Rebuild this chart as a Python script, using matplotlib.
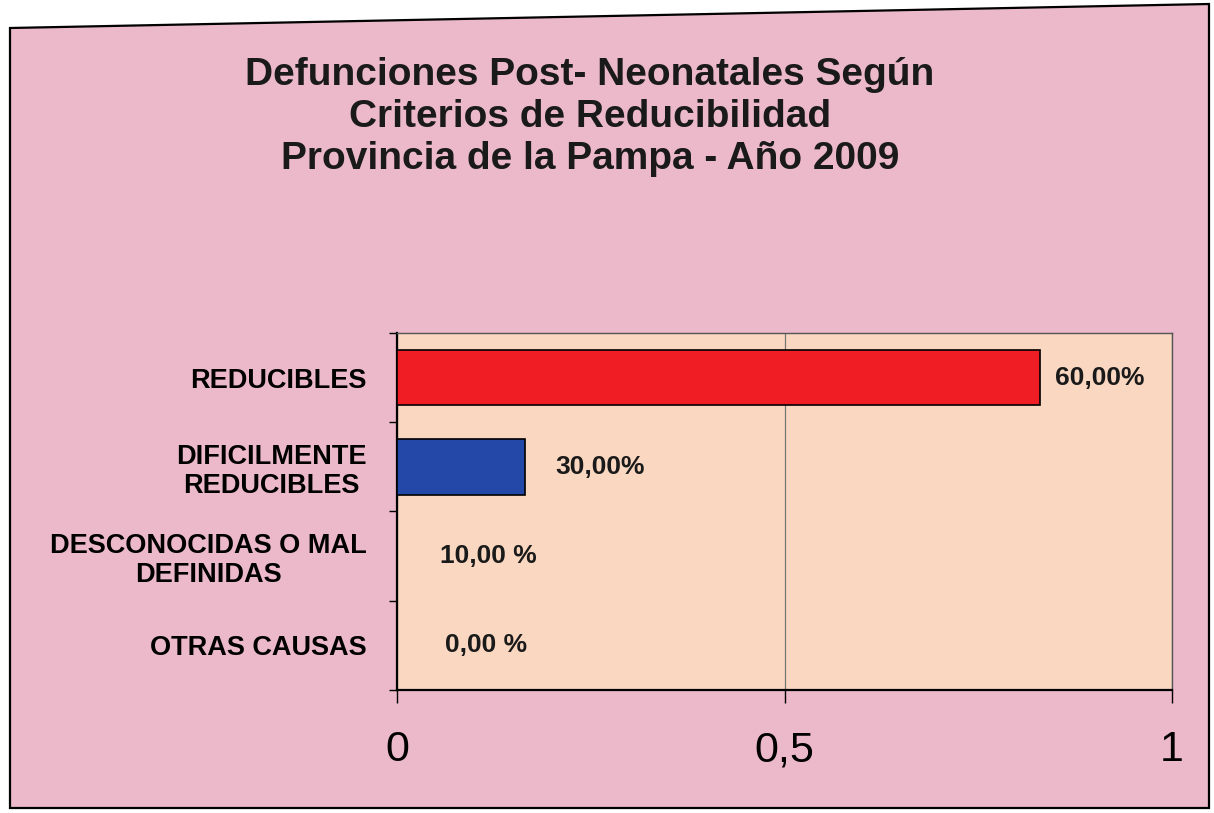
import numpy as np
import matplotlib
matplotlib.use('Agg')
import matplotlib.pyplot as plt
from matplotlib.patches import Polygon

# Data
categories = ['REDUCIBLES', 'DIFICILMENTE\nREDUCIBLES', 'DESCONOCIDAS O MAL\nDEFINIDAS', 'OTRAS CAUSAS']
values     = [0.83, 0.165, 0.0, 0.0]
val_labels = ['60,00%', '30,00%', '10,00 %', '0,00 %']
x_ticks    = [0, 0.5, 1]
x_ticklbls = ['0', '0,5', '1']

bar_colors = ['#F01E24', '#2448A8', '#F01E24', '#F01E24']
lbl_offset = [15, 30, 43, 48]   # pixels from bar end to label

plt.rcParams['font.family'] = ['Liberation Sans', 'DejaVu Sans']

fig = plt.figure(figsize=(12.14, 8.13), dpi=100, facecolor='white')
W, H = 1214, 813

# Pink scanned frame (slightly tilted)
corners = [(10, 28), (1209, 4), (1209, 808), (10, 808)]
frame = Polygon([(x / W, 1 - y / H) for x, y in corners], closed=True,
                transform=fig.transFigure, facecolor='#EBB9C9',
                edgecolor='black', linewidth=1.6, zorder=-5)
fig.patches.append(frame)

ax = fig.add_axes([397 / W, 1 - 690 / H, (1172 - 397) / W, (690 - 333) / H])
ax.set_zorder(2)
ax.set_facecolor('#F9D7C0')

y = np.arange(len(categories))
ax.barh(y, values, height=0.62, color=bar_colors, edgecolor='black', linewidth=1.2, zorder=3)

ax.set_xlim(0, 1)
ax.set_ylim(len(categories) - 0.5, -0.5)

# Value labels
for i, (v, lbl) in enumerate(zip(values, val_labels)):
    ax.annotate(lbl, xy=(v, i), xytext=(lbl_offset[i] * 0.72, 0), textcoords='offset points',
                ha='left', va='center', fontsize=19, fontweight='bold', color='#1a1a1a')

# Category labels
ax.set_yticks(y)
ax.set_yticklabels(categories, fontsize=19.5, fontweight='bold', multialignment='center',
                   linespacing=1.15)
ax.tick_params(axis='y', which='major', length=0, pad=22)
ax.set_yticks(np.arange(-0.5, len(categories)), minor=True)
ax.tick_params(axis='y', which='minor', length=6, width=1, direction='out')

ax.set_xticks(x_ticks)
ax.set_xticklabels(x_ticklbls, fontsize=31)
ax.tick_params(axis='x', length=9, width=1, direction='out', pad=20)

ax.xaxis.grid(True, color='#777777', linewidth=0.9)
ax.set_axisbelow(True)

for side in ['left', 'bottom']:
    ax.spines[side].set_linewidth(1.6)
    ax.spines[side].set_color('black')
for side in ['top', 'right']:
    ax.spines[side].set_linewidth(1.0)
    ax.spines[side].set_color('#555555')

fig.text(590 / W, 1 - 57 / H,
         'Defunciones Post- Neonatales Según\nCriterios de Reducibilidad\nProvincia de la Pampa - Año 2009',
         ha='center', va='top', fontsize=28, fontweight='bold', linespacing=1.22, color='#1a1a1a')

fig.savefig('out.png', dpi=100, facecolor=fig.get_facecolor())
